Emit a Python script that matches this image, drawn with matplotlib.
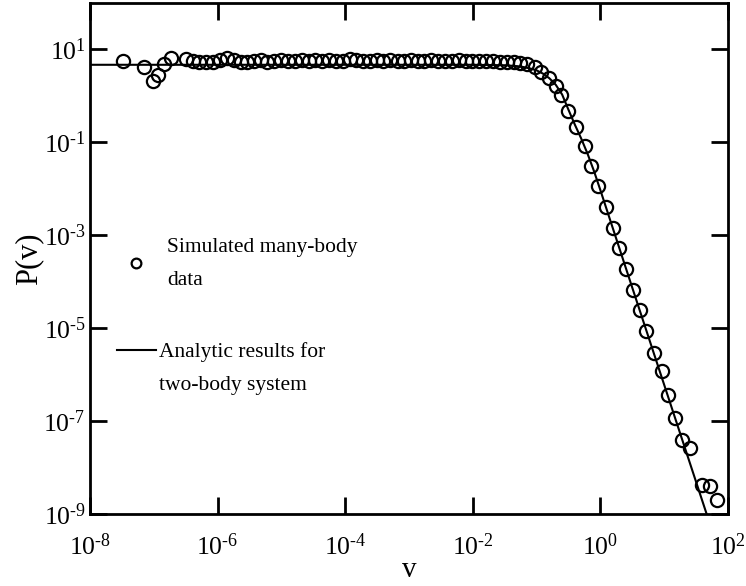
import numpy as np
import matplotlib
matplotlib.use("Agg")
import matplotlib.pyplot as plt
from matplotlib.ticker import FixedLocator, FuncFormatter, NullLocator

plt.rcParams['font.family'] = ['Liberation Serif', 'DejaVu Serif']
plt.rcParams['mathtext.fontset'] = 'custom'
plt.rcParams['mathtext.rm'] = 'Liberation Serif'
plt.rcParams['mathtext.it'] = 'Liberation Serif:italic'

# simulated many-body data, log10(v) and log10(P)
sim_logv = [
    -7.49, -7.15, -7.02, -6.93, -6.84, -6.73,
    -6.50, -6.39, -6.29, -6.18, -6.07, -5.97, -5.86, -5.75, -5.64, -5.54,
    -5.43, -5.32, -5.22, -5.11, -5.00, -4.90, -4.79, -4.68, -4.57, -4.47,
    -4.36, -4.25, -4.15, -4.04, -3.93, -3.83, -3.72, -3.61, -3.50, -3.40,
    -3.29, -3.18, -3.08, -2.97, -2.86, -2.76, -2.65, -2.54, -2.43, -2.33,
    -2.22, -2.11, -2.01, -1.90, -1.79, -1.69, -1.58, -1.47, -1.36, -1.26,
    -1.15, -1.03, -0.925, -0.805, -0.70, -0.61, -0.507, -0.375, -0.245,
    -0.14, -0.03, 0.085, 0.19, 0.29, 0.40, 0.513, 0.62, 0.72, 0.843,
    0.958, 1.053, 1.168, 1.283, 1.40, 1.597, 1.717, 1.82,
]
sim_logp = [
    0.75, 0.63, 0.32, 0.46, 0.68, 0.82,
    0.80, 0.76, 0.74, 0.72, 0.73, 0.78, 0.82, 0.77, 0.73, 0.72,
    0.75, 0.77, 0.74, 0.76, 0.78, 0.76, 0.75, 0.77, 0.76, 0.78,
    0.76, 0.77, 0.75, 0.76, 0.79, 0.77, 0.76, 0.76, 0.77, 0.76,
    0.77, 0.76, 0.76, 0.77, 0.76, 0.76, 0.77, 0.76, 0.76, 0.76,
    0.77, 0.76, 0.76, 0.75, 0.75, 0.75, 0.74, 0.74, 0.73, 0.71,
    0.68, 0.62, 0.51, 0.38, 0.22, 0.01, -0.315, -0.67, -1.07,
    -1.50, -1.95, -2.40, -2.84, -3.28, -3.73, -4.17, -4.61, -5.07, -5.53,
    -5.92, -6.44, -6.94, -7.41, -7.59, -8.38, -8.40, -8.70,
]

# analytic two-body curve
line_logv = [-8.0, -3.0, -2.0, -1.5, -1.3, -1.2, -1.1, -1.0, -0.9, -0.8,
             -0.7, -0.6, -0.5, -0.4, -0.3, -0.2, -0.1, 0.0, 0.5, 1.0, 1.5, 2.0]
line_logp = [0.67, 0.67, 0.67, 0.66, 0.64, 0.62, 0.59, 0.55, 0.48, 0.38,
             0.24, 0.03, -0.30, -0.62, -0.92, -1.25, -1.62, -2.03, -4.13,
             -6.22, -8.31, -10.4]

xticks = [-8, -6, -4, -2, 0, 2]
yticks = [1, -1, -3, -5, -7, -9]

sim_v = 10.0 ** np.array(sim_logv)
sim_p = 10.0 ** np.array(sim_logp)
line_v = 10.0 ** np.array(line_logv)
line_p = 10.0 ** np.array(line_logp)


def pow_label(val, pos):
    k = int(round(np.log10(val)))
    exp = str(abs(k)) if k >= 0 else '\u2010' + str(abs(k))
    return r'$\mathregular{10^{%s}}$' % exp


fig = plt.figure(figsize=(7.46, 5.86), dpi=100)
ax = fig.add_axes([90 / 746, 1 - 514 / 586, (728 - 90) / 746, (514 - 3) / 586])

ax.plot(line_v, line_p, color='black', lw=1.5, zorder=2)
ax.plot(sim_v, sim_p, linestyle='none', marker='o', ms=9.5,
        mfc='none', mec='black', mew=1.6, zorder=3)

ax.set_xscale('log')
ax.set_yscale('log')
ax.set_xlim(1e-8, 1e2)
ax.set_ylim(1e-9, 1e2)

ax.xaxis.set_major_locator(FixedLocator([10.0 ** k for k in xticks]))
ax.yaxis.set_major_locator(FixedLocator([10.0 ** k for k in yticks]))
ax.xaxis.set_minor_locator(NullLocator())
ax.yaxis.set_minor_locator(NullLocator())
ax.xaxis.set_major_formatter(FuncFormatter(pow_label))
ax.yaxis.set_major_formatter(FuncFormatter(pow_label))

ax.tick_params(which='major', direction='in', length=12, width=2,
               top=True, right=True, labelsize=18.5)
ax.tick_params(axis='x', pad=14)
ax.tick_params(axis='y', pad=3)
for sp in ax.spines.values():
    sp.set_linewidth(2)

ax.set_xlabel('v', fontsize=21, labelpad=-2)
ax.set_ylabel('P(v)', fontsize=22, labelpad=0)

# legend drawn by hand in figure pixel coordinates
tr = fig.transFigure
fig.lines.append(plt.Line2D([136 / 746], [1 - 263 / 586], transform=tr,
                            marker='o', ms=7, mfc='none', mec='black', mew=1.6))
fig.text(167 / 746, 1 - 264 / 586, 'Simulated many-body\ndata', fontsize=15.5,
         va='center', ha='left', linespacing=2.05)
fig.lines.append(plt.Line2D([117 / 746, 156 / 746], [1 - 350 / 586] * 2,
                            transform=tr, color='black', lw=1.5))
fig.text(159 / 746, 1 - 369 / 586, 'Analytic results for\ntwo-body system', fontsize=15.5,
         va='center', ha='left', linespacing=2.0)

fig.savefig('out.png', dpi=100)
